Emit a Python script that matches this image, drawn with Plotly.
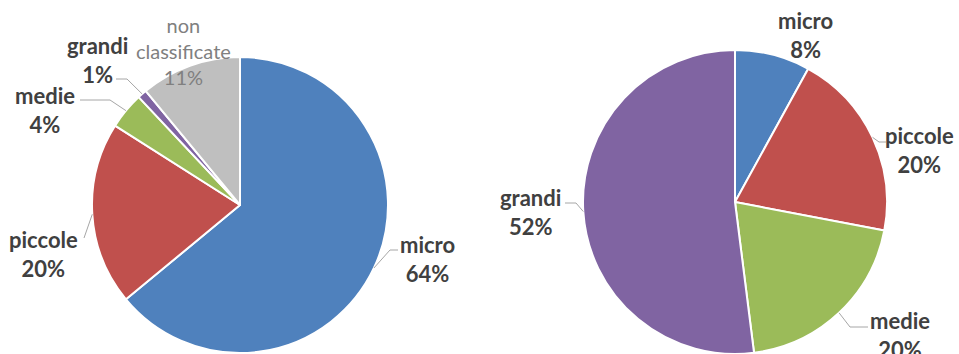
import math
import plotly.graph_objects as go

# ---- data ----
left_labels = ["micro", "piccole", "medie", "grandi", "non classificate"]
left_values = [64, 20, 4, 1, 11]
right_labels = ["micro", "piccole", "medie", "grandi"]
right_values = [8, 20, 20, 52]

colors = {"micro": "#4F81BD", "piccole": "#C0504D", "medie": "#9BBB59",
          "grandi": "#8064A2", "non classificate": "#BFBFBF"}

W, H = 959, 354

# ---- layout (pixel geometry) ----
pies = [
    dict(labels=left_labels, values=left_values, x0=92, x1=388, y0=57, y1=353),
    dict(labels=right_labels, values=right_values, x0=583, x1=887, y0=50, y1=354),
]
# label text centres, and leader anchor/elbow (None = no leader)
label_pos = [
    {
        "micro": dict(xy=(427, 259), anchor=(398, 250), elbow=(390, 250)),
        "piccole": dict(xy=(43, 254), anchor=(84, 238), elbow=(84, 238)),
        "medie": dict(xy=(45, 110), anchor=(80, 100), elbow=(110, 100)),
        "grandi": dict(xy=(97, 60), anchor=(116, 79), elbow=(127, 79)),
        "non classificate": dict(xy=(183, 51), anchor=None, elbow=None,
                                 text="non<br>classificate", light=True),
    },
    {
        "micro": dict(xy=(805, 35), anchor=None, elbow=None),
        "piccole": dict(xy=(919, 150), anchor=(886, 142), elbow=(879, 142)),
        "medie": dict(xy=(900, 335), anchor=(868, 327), elbow=(850, 327)),
        "grandi": dict(xy=(530, 212), anchor=(565, 203), elbow=(576, 203)),
    },
]

def px(x):
    return x / W

def py(y):
    return 1 - y / H

fig = go.Figure()
annotations = []
shapes = []
for p, lp in zip(pies, label_pos):
    fig.add_trace(go.Pie(
        labels=p["labels"], values=p["values"], sort=False,
        direction="clockwise", rotation=0,
        marker=dict(colors=[colors[l] for l in p["labels"]],
                    line=dict(color="white", width=2)),
        textinfo="none", hoverinfo="label+percent", showlegend=False,
        domain=dict(x=[px(p["x0"]), px(p["x1"])], y=[py(p["y1"]), py(p["y0"])]),
    ))
    cx = (p["x0"] + p["x1"]) / 2
    cy = (p["y0"] + p["y1"]) / 2
    r = min(p["x1"] - p["x0"], p["y1"] - p["y0"]) / 2
    total = sum(p["values"])
    cum = 0
    for lab, val in zip(p["labels"], p["values"]):
        mid = (cum + val / 2) / total * 2 * math.pi
        cum += val
        ex = cx + r * math.sin(mid)
        ey = cy - r * math.cos(mid)
        info = lp[lab]
        pct = f"{round(val / total * 100)}%"
        light = info.get("light", False)
        txt = info.get("text", lab) + "<br>" + pct
        annotations.append(dict(
            x=px(info["xy"][0]), y=py(info["xy"][1]), xref="paper", yref="paper",
            text=txt, showarrow=False, xanchor="center", yanchor="middle",
            align="center",
            font=dict(family="Lato", size=20 if light else 22,
                      color="#808080" if light else "#404040",
                      weight="normal" if light else "bold"),
        ))
        if info["anchor"] is not None:
            (ax, ay), (bx, by) = info["anchor"], info["elbow"]
            shapes.append(dict(
                type="path", xref="paper", yref="paper",
                path=f"M {px(ax)} {py(ay)} L {px(bx)} {py(by)} L {px(ex)} {py(ey)}",
                line=dict(color="#A6A6A6", width=1),
            ))

fig.update_layout(
    width=W, height=H, margin=dict(l=0, r=0, t=0, b=0),
    paper_bgcolor="white", plot_bgcolor="white",
    annotations=annotations, shapes=shapes,
)
fig.write_html("out.html")
